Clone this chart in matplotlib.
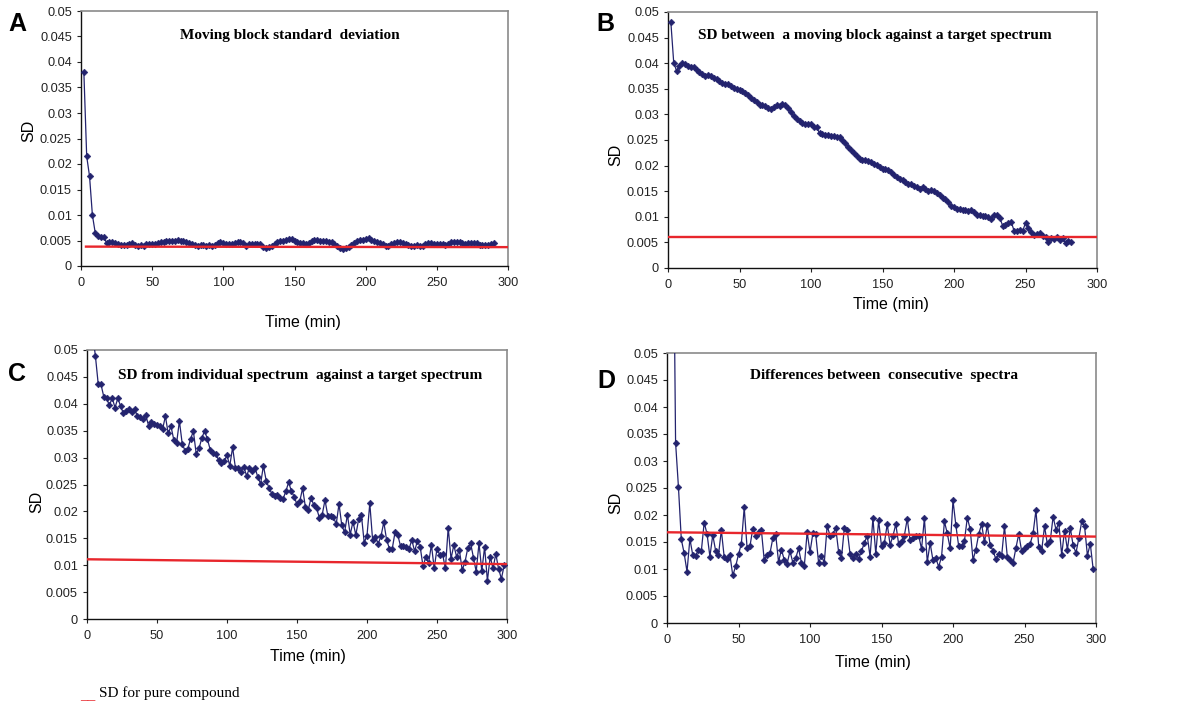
import matplotlib
matplotlib.use("Agg")
import matplotlib.pyplot as plt
import numpy as np
from matplotlib.ticker import FuncFormatter, MultipleLocator

plt.rcParams["font.family"] = ["Liberation Sans", "DejaVu Sans"]

NAVY = "#23236e"
RED = "#e8262c"

# --- data (SD vs time, min) ---
sd_a = [
    .0381, .0215, .0176, .0100, .0065, .0058, .0057, .0057, .0045, .0047,
    .0047, .0046, .0044, .0041, .0041, .0042, .0043, .0045, .0042, .0040,
    .0041, .0040, .0043, .0043, .0044, .0044, .0045, .0047, .0048, .0049,
    .0050, .0050, .0050, .0051, .0050, .0049, .0047, .0046, .0044, .0041,
    .0040, .0041, .0041, .0040, .0041, .0040, .0041, .0046, .0047, .0045,
    .0044, .0044, .0044, .0045, .0047, .0048, .0046, .0040, .0043, .0043,
    .0043, .0044, .0043, .0037, .0036, .0037, .0040, .0044, .0047, .0049,
    .0050, .0051, .0053, .0052, .0050, .0047, .0046, .0045, .0044, .0046,
    .0049, .0051, .0051, .0050, .0050, .0049, .0048, .0047, .0043, .0039,
    .0036, .0034, .0036, .0038, .0041, .0045, .0050, .0051, .0051, .0052,
    .0054, .0051, .0050, .0048, .0046, .0043, .0040, .0040, .0043, .0046,
    .0047, .0048, .0046, .0043, .0041, .0040, .0040, .0041, .0040, .0040,
    .0043, .0046, .0046, .0044, .0043, .0043, .0043, .0042, .0043, .0048,
    .0048, .0048, .0047, .0046, .0044, .0045, .0045, .0046, .0045, .0042,
    .0041, .0042, .0042, .0043, .0045,
]
time_a = np.arange(2, 2 + 2 * len(sd_a), 2)

sd_b = [
    .0480, .0401, .0385, .0395, .0401, .0398, .0395, .0393, .0392, .0387,
    .0382, .0379, .0375, .0377, .0375, .0371, .0369, .0365, .0362, .0360,
    .0359, .0356, .0352, .0350, .0348, .0346, .0342, .0337, .0333, .0329,
    .0324, .0319, .0318, .0316, .0312, .0311, .0315, .0318, .0317, .0320,
    .0319, .0313, .0305, .0296, .0291, .0287, .0284, .0282, .0282, .0281,
    .0276, .0275, .0263, .0262, .0260, .0259, .0258, .0257, .0256, .0255,
    .0250, .0244, .0237, .0231, .0225, .0219, .0213, .0210, .0211, .0209,
    .0207, .0204, .0201, .0197, .0194, .0193, .0192, .0188, .0182, .0177,
    .0174, .0171, .0167, .0165, .0164, .0161, .0158, .0155, .0158, .0155,
    .0151, .0152, .0151, .0147, .0142, .0137, .0134, .0128, .0122, .0119,
    .0116, .0115, .0114, .0113, .0112, .0113, .0109, .0104, .0103, .0102,
    .0101, .0099, .0096, .0104, .0104, .0098, .0083, .0084, .0087, .0090,
    .0073, .0073, .0074, .0072, .0088, .0079, .0071, .0064, .0067, .0069,
    .0062, .0061, .0050, .0058, .0057, .0061, .0054, .0059, .0048, .0053,
    .0051,
]
time_b = np.arange(2, 2 + 2 * len(sd_b), 2)

sd_c = [
    .0530, .0489, .0437, .0436, .0413, .0410, .0397, .0411, .0393, .0410,
    .0396, .0382, .0386, .0390, .0385, .0390, .0377, .0375, .0372, .0379,
    .0359, .0366, .0362, .0361, .0359, .0353, .0377, .0345, .0358, .0333,
    .0327, .0368, .0326, .0313, .0316, .0335, .0349, .0307, .0317, .0336,
    .0350, .0334, .0315, .0309, .0306, .0296, .0290, .0294, .0304, .0285,
    .0319, .0281, .0280, .0274, .0283, .0266, .0280, .0276, .0281, .0264,
    .0251, .0285, .0257, .0244, .0233, .0229, .0230, .0225, .0223, .0237,
    .0254, .0238, .0227, .0213, .0219, .0243, .0208, .0202, .0225, .0212,
    .0206, .0188, .0194, .0221, .0192, .0192, .0190, .0176, .0214, .0174,
    .0161, .0194, .0157, .0181, .0156, .0185, .0193, .0142, .0155, .0215,
    .0147, .0153, .0140, .0154, .0180, .0147, .0131, .0130, .0161, .0156,
    .0135, .0135, .0133, .0130, .0147, .0126, .0145, .0134, .0098, .0115,
    .0104, .0138, .0094, .0131, .0119, .0120, .0094, .0170, .0112, .0137,
    .0116, .0128, .0091, .0106, .0132, .0141, .0114, .0088, .0141, .0089,
    .0134, .0071, .0116, .0094, .0121, .0093, .0075, .0100,
]
time_c = np.arange(4, 4 + 2 * len(sd_c), 2)

sd_d = [
    .0890, .0334, .0252, .0155, .0129, .0095, .0156, .0126, .0125, .0135,
    .0133, .0186, .0165, .0123, .0163, .0134, .0126, .0172, .0122, .0118,
    .0126, .0088, .0105, .0127, .0147, .0214, .0139, .0142, .0175, .0162,
    .0169, .0172, .0116, .0126, .0129, .0157, .0164, .0113, .0136, .0117,
    .0110, .0133, .0112, .0120, .0138, .0112, .0105, .0168, .0131, .0166,
    .0164, .0112, .0124, .0112, .0180, .0162, .0165, .0176, .0132, .0120,
    .0176, .0173, .0128, .0121, .0128, .0119, .0133, .0148, .0162, .0123,
    .0194, .0128, .0190, .0142, .0148, .0183, .0145, .0161, .0183, .0146,
    .0151, .0162, .0193, .0153, .0158, .0162, .0162, .0137, .0194, .0113,
    .0148, .0116, .0120, .0104, .0123, .0188, .0166, .0138, .0227, .0181,
    .0142, .0142, .0152, .0195, .0174, .0117, .0136, .0165, .0183, .0150,
    .0181, .0144, .0134, .0118, .0128, .0124, .0179, .0122, .0117, .0111,
    .0139, .0165, .0133, .0138, .0143, .0147, .0166, .0209, .0140, .0134,
    .0179, .0146, .0152, .0197, .0173, .0185, .0126, .0171, .0136, .0176,
    .0144, .0130, .0157, .0188, .0179, .0125, .0147, .0100,
]
time_d = np.arange(4, 4 + 2 * len(sd_d), 2)

# reference SD for pure compound (red line end points)
ref_a = ([3.5, 300], [0.0038, 0.0037])
ref_b = ([0, 300], [0.0061, 0.0061])
ref_c = ([0, 300], [0.0111, 0.0102])
ref_d = ([0, 300], [0.0168, 0.0160])

titles = [
    "Moving block standard  deviation",
    "SD between  a moving block against a target spectrum",
    "SD from individual spectrum  against a target spectrum",
    "Differences between  consecutive  spectra",
]
letters = ["A", "B", "C", "D"]

W, H = 1187, 706
fig = plt.figure(figsize=(W / 100, H / 100), dpi=100)


def px_rect(left, top, right, bottom):
    return [left / W, 1 - bottom / H, (right - left) / W, (bottom - top) / H]


def draw_panel(rect, t, sd, ref, title, title_xy, letter, letter_xy, ylab_xy, xlab_xy):
    ax = fig.add_axes(px_rect(*rect))
    ax.plot(t, sd, "-", color=NAVY, linewidth=0.9, marker="D", markersize=3.4,
            markeredgewidth=0.4, markeredgecolor=NAVY, zorder=3)
    ax.plot(ref[0], ref[1], "-", color=RED, linewidth=1.7, zorder=4)
    ax.set_xlim(0, 300)
    ax.set_ylim(0, 0.05)
    ax.xaxis.set_major_locator(MultipleLocator(50))
    ax.yaxis.set_major_locator(MultipleLocator(0.005))
    ax.yaxis.set_major_formatter(FuncFormatter(lambda v, p: f"{round(v, 3):g}"))
    ax.tick_params(direction="out", length=3, width=0.8, labelsize=9.2,
                   colors="#222222")
    ax.tick_params(axis="x", pad=5)
    ax.tick_params(axis="y", pad=3.5)
    for s in ["left", "bottom"]:
        ax.spines[s].set_color("#111111")
        ax.spines[s].set_linewidth(1.0)
    for s in ["top", "right"]:
        ax.spines[s].set_color("#8a8a8a")
        ax.spines[s].set_linewidth(1.2)

    fig.text(title_xy[0] / W, 1 - title_xy[1] / H, title, ha="center", va="center",
             family=["Liberation Serif"], fontweight="bold", fontsize=11)
    fig.text(letter_xy[0] / W, 1 - letter_xy[1] / H, letter, ha="left", va="center",
             fontweight="bold", fontsize=18)
    fig.text(ylab_xy[0] / W, 1 - ylab_xy[1] / H, "SD", ha="center", va="center",
             rotation=90, fontsize=11.5)
    fig.text(xlab_xy[0] / W, 1 - xlab_xy[1] / H, "Time (min)", ha="center",
             va="center", fontsize=11.5)
    return ax


draw_panel((81, 11, 508, 266), time_a, sd_a, ref_a, titles[0], (290, 35),
           letters[0], (8, 24), (29, 131), (303, 323))
draw_panel((668, 12, 1097, 268), time_b, sd_b, ref_b, titles[1], (875, 35),
           letters[1], (596, 24), (616, 155), (891, 305))
draw_panel((87, 350, 507, 619), time_c, sd_c, ref_c, titles[2], (300, 375),
           letters[2], (8, 374), (37, 502), (308, 657))
draw_panel((667, 353, 1096, 623), time_d, sd_d, ref_d, titles[3], (884, 375),
           letters[3], (597, 381), (616, 503), (873, 662))

# legend note at the bottom
fig.text(80 / W, 1 - 696 / H, "__", color=RED, ha="left", va="center",
         family=["Liberation Serif"], fontsize=11)
fig.text(99 / W, 1 - 693 / H, "SD for pure compound", ha="left", va="center",
         family=["Liberation Serif"], fontsize=11)

fig.savefig("out.png", dpi=100)
